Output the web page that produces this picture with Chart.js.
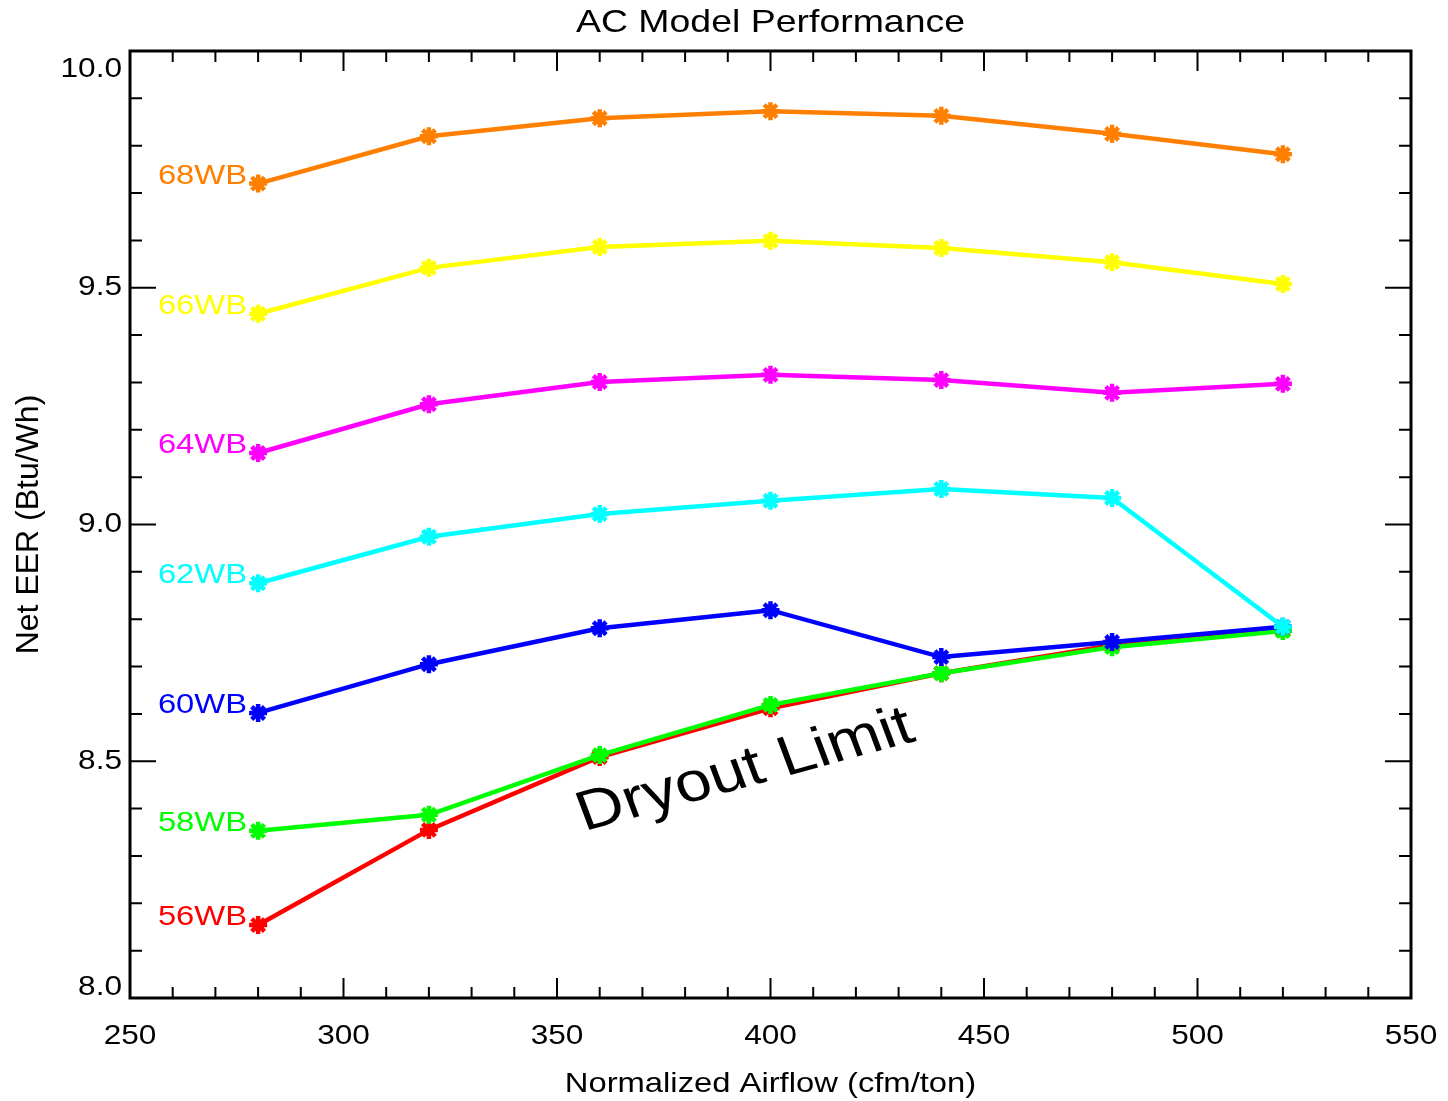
<!DOCTYPE html>
<html lang="en">
<head>
  <meta charset="UTF-8" />
  <title>AC Model Performance</title>
  <script src="https://cdn.jsdelivr.net/npm/chart.js"></script>
  <style>
    body {
      margin: 0;
      background: #fff;
    }
    canvas {
      display: block;
    }
  </style>
</head>
<body>
  <canvas id="grafica" width="1448" height="1101"></canvas>

  <script>
    // airflow points (cfm/ton)
    const airflow = [280, 320, 360, 400, 440, 480, 520];

    // Net EER for each wet bulb temperature
    const eer68 = [9.72, 9.82, 9.858, 9.873, 9.863, 9.825, 9.782];
    const eer66 = [9.445, 9.542, 9.586, 9.599, 9.584, 9.554, 9.508];
    const eer64 = [9.151, 9.254, 9.301, 9.316, 9.305, 9.278, 9.297];
    const eer62 = [8.876, 8.974, 9.022, 9.05, 9.075, 9.056, 8.784];
    const eer60 = [8.602, 8.705, 8.781, 8.819, 8.72, 8.752, 8.784];
    const eer58 = [8.353, 8.387, 8.513, 8.619, 8.686, 8.741, 8.775];
    const eer56 = [8.154, 8.355, 8.509, 8.612, 8.686, 8.745, 8.777];

    const seriesNames = ['68WB', '66WB', '64WB', '62WB', '60WB', '58WB', '56WB'];
    const seriesColors = ['#ff7f00', '#ffff00', '#ff00ff', '#00ffff', '#0000ff', '#00ff00', '#ff0000'];
    const seriesValues = [eer68, eer66, eer64, eer62, eer60, eer58, eer56];

    const xTicks = [250, 300, 350, 400, 450, 500, 550];
    const yTicks = [8.0, 8.5, 9.0, 9.5, 10.0];
    const yTickLabels = ['8.0', '8.5', '9.0', '9.5', '10.0'];

    const noteText = 'Dryout Limit';
    const notePos = { x: 356.4, y: 8.352 };

    const STRETCH = 1.17;
    const FONT = "'Liberation Sans', Arial, sans-serif";

    function txt(ctx, s, x, y, size, align, baseline, angle, sx) {
      ctx.save();
      ctx.translate(x, y);
      ctx.scale(sx === undefined ? STRETCH : sx, 1);
      if (angle) ctx.rotate(angle);
      ctx.font = size + 'px ' + FONT;
      ctx.textAlign = align;
      ctx.textBaseline = baseline;
      ctx.fillStyle = ctx._color || '#000';
      ctx.fillText(s, 0, 0);
      ctx.restore();
    }

    const frame = {
      id: 'frame',
      afterDatasetsDraw(chart) {
        const ctx = chart.ctx;
        const a = chart.chartArea;
        const xs = chart.scales.x, ys = chart.scales.y;

        // box
        ctx.save();
        ctx.strokeStyle = '#000';
        ctx.lineWidth = 3;
        ctx.strokeRect(a.left, a.top, a.right - a.left, a.bottom - a.top);

        ctx.lineWidth = 2;
        ctx.beginPath();
        for (let v = 250; v <= 550; v += 10) {
          const px = xs.getPixelForValue(v);
          const len = v % 50 === 0 ? 20 : 11;
          ctx.moveTo(px, a.bottom); ctx.lineTo(px, a.bottom - len);
          ctx.moveTo(px, a.top); ctx.lineTo(px, a.top + len);
        }
        for (let i = 0; i <= 20; i++) {
          const v = 8 + i * 0.1;
          const py = ys.getPixelForValue(v);
          const len = i % 5 === 0 ? 26 : 12;
          ctx.moveTo(a.left, py); ctx.lineTo(a.left + len, py);
          ctx.moveTo(a.right, py); ctx.lineTo(a.right - len, py);
        }
        ctx.stroke();
        ctx.restore();

        // tick labels
        xTicks.forEach(v => {
          txt(ctx, String(v), xs.getPixelForValue(v), 1037, 27, 'center', 'middle');
        });
        yTicks.forEach((v, i) => {
          let py = ys.getPixelForValue(v);
          if (i === 0) py = a.bottom - 10;
          if (i === yTicks.length - 1) py = a.top + 19;
          txt(ctx, yTickLabels[i], 122, py, 27, 'right', 'middle');
        });

        // titles
        txt(ctx, 'AC Model Performance', (a.left + a.right) / 2, 23, 32, 'center', 'middle');
        txt(ctx, 'Normalized Airflow (cfm/ton)', (a.left + a.right) / 2, 1084, 28, 'center', 'middle');
        txt(ctx, 'Net EER (Btu/Wh)', 29, (a.top + a.bottom) / 2, 32, 'center', 'middle', -Math.PI / 2, 1);

        // series labels at first point
        seriesValues.forEach((vals, i) => {
          const px = xs.getPixelForValue(airflow[0]);
          const py = ys.getPixelForValue(vals[0]);
          ctx._color = seriesColors[i];
          txt(ctx, seriesNames[i], px - 11, py, 28, 'right', 'alphabetic');
        });
        ctx._color = '#000';

        // dryout note
        const ang = -Math.atan(Math.tan(20.5 * Math.PI / 180) / STRETCH);
        txt(ctx, noteText, xs.getPixelForValue(notePos.x), ys.getPixelForValue(notePos.y), 56, 'left', 'alphabetic', ang);
      }
    };

    const datasets = seriesValues.map((vals, i) => ({
      label: seriesNames[i],
      data: airflow.map((x, j) => ({ x: x, y: vals[j] })),
      borderColor: seriesColors[i],
      backgroundColor: seriesColors[i],
      borderWidth: 4.5,
      pointStyle: 'star',
      pointRadius: 9,
      pointBorderWidth: 4.5,
      tension: 0,
      fill: false
    }));

    const ctx = document.getElementById('grafica').getContext('2d');
    new Chart(ctx, {
      type: 'line',
      data: { datasets: datasets },
      options: {
        responsive: false,
        animation: false,
        layout: { padding: { left: 130, right: 37, top: 51, bottom: 103 } },
        plugins: {
          legend: { display: false },
          tooltip: { enabled: false }
        },
        scales: {
          x: { type: 'linear', min: 250, max: 550, display: false },
          y: { type: 'linear', min: 8.0, max: 10.0, display: false }
        }
      },
      plugins: [frame, {
        id: 'bg',
        beforeDraw(chart) {
          const c = chart.ctx;
          c.save();
          c.fillStyle = '#fff';
          c.fillRect(0, 0, chart.width, chart.height);
          c.restore();
        }
      }]
    });
  </script>
</body>
</html>
